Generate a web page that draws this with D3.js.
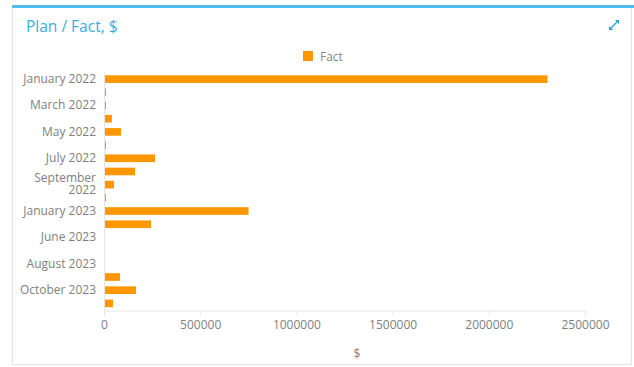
<!DOCTYPE html>
<html>
<head>
<meta charset="utf-8">
<script src="https://cdn.jsdelivr.net/npm/d3@7"></script>
<style>
  body { margin: 0; background: #fff; font-family: "Open Sans", sans-serif; }
  .axis text { fill: #808080; font-size: 12px; font-family: "Open Sans", sans-serif; }
</style>
</head>
<body>
<div id="chart"></div>
<script>
// data
const months = [
  "January 2022", "February 2022", "March 2022", "April 2022", "May 2022",
  "June 2022", "July 2022", "August 2022", "September 2022", "December 2022",
  "January 2023", "February 2023", "June 2023", "July 2023", "August 2023",
  "September 2023", "October 2023", "November 2023"
]
const factValues = [
  2300000, 5000, 4000, 36000, 83000,
  4000, 260000, 156000, 47000, 3000,
  746000, 239000, 0, 0, 0,
  78000, 161000, 42000
]
const xTicks = [0, 500000, 1000000, 1500000, 2000000, 2500000]

const width = 634
const height = 367
let dimensions = {
  width: width,
  height: height,
  margin: { top: 72, right: 49, bottom: 56.5, left: 104 },
}
dimensions.boundedWidth = dimensions.width - dimensions.margin.left - dimensions.margin.right
dimensions.boundedHeight = dimensions.height - dimensions.margin.top - dimensions.margin.bottom

const svg = d3.select("#chart")
  .append("svg")
  .attr("width", dimensions.width)
  .attr("height", dimensions.height)

// card
svg.append("rect")
  .attr("x", 12.5).attr("y", 6.5)
  .attr("width", 619).attr("height", 358)
  .attr("fill", "#fff")
  .attr("stroke", "#e3e3e3")
svg.append("rect")
  .attr("x", 12).attr("y", 5)
  .attr("width", 622).attr("height", 3)
  .attr("fill", "#4cbdec")

svg.append("text")
  .attr("x", 26).attr("y", 32)
  .attr("fill", "#3aaee0")
  .style("font-size", "15.5px")
  .text("Plan / Fact, $")

// expand icon
const icon = svg.append("g").attr("transform", "translate(614,25)")
icon.append("path").attr("d", "M1,-5 L5,-5 L5,-1 Z").attr("fill", "#2f9ad8")
icon.append("path").attr("d", "M-1,5 L-5,5 L-5,1 Z").attr("fill", "#2f9ad8")
icon.append("line").attr("x1", -3).attr("y1", 3).attr("x2", 3).attr("y2", -3)
  .attr("stroke", "#2f9ad8").attr("stroke-width", 1.2)

// legend
svg.append("rect")
  .attr("x", 303).attr("y", 51)
  .attr("width", 10).attr("height", 10)
  .attr("fill", "#ff9800")
svg.append("text")
  .attr("x", 320).attr("y", 61)
  .attr("fill", "#888")
  .style("font-size", "12px")
  .text("Fact")

const bounds = svg.append("g")
  .attr("transform", `translate(${dimensions.margin.left},${dimensions.margin.top})`)

const xScale = d3.scaleLinear()
  .domain([0, 2500000])
  .range([0, 481])

const yScale = d3.scaleBand()
  .domain(months)
  .range([0, dimensions.boundedHeight])
  .paddingInner(0.42)
  .paddingOuter(0.25)

bounds.selectAll("rect.bar")
  .data(months)
  .join("rect")
  .attr("class", "bar")
  .attr("x", xScale(0) + 1)
  .attr("y", d => yScale(d))
  .attr("width", (d, i) => factValues[i] > 0 ? Math.max(1, xScale(factValues[i]) - xScale(0)) : 0)
  .attr("height", yScale.bandwidth())
  .attr("fill", "#ff9800")

// x axis
const xAxis = bounds.append("g")
  .attr("class", "axis")
  .attr("transform", `translate(0,${dimensions.boundedHeight})`)
  .call(d3.axisBottom(xScale).tickValues(xTicks).tickFormat(d3.format("d")).tickSize(5).tickPadding(5))
xAxis.select(".domain").attr("stroke", "#e6e6e6")
xAxis.selectAll(".tick line").attr("stroke", "#e6e6e6")

svg.append("text")
  .attr("x", 357).attr("y", 358)
  .attr("text-anchor", "middle")
  .attr("fill", "#808080")
  .style("font-size", "12px")
  .text("$")

// y axis, every other label
const yAxis = bounds.append("g")
  .attr("class", "axis")
  .call(d3.axisLeft(yScale).tickSize(0).tickPadding(8)
    .tickFormat((d, i) => i % 2 === 0 ? d : ""))
yAxis.select(".domain").attr("stroke", "#e6e6e6")

yAxis.selectAll(".tick text").each(function (d) {
  if (d === "September 2022") {
    const t = d3.select(this)
    t.text(null)
    t.append("tspan").attr("x", -8).attr("dy", "-0.25em").text("September")
    t.append("tspan").attr("x", -8).attr("dy", "1.05em").text("2022")
  }
})
</script>
</body>
</html>
